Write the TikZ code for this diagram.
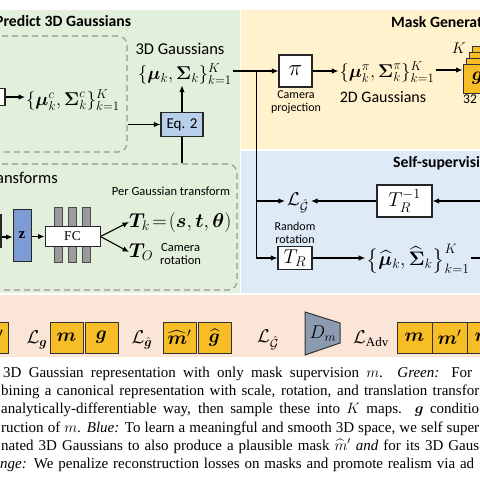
\RequirePackage{fix-cm}
\documentclass[tikz,border=0pt]{standalone}
\usepackage{amsmath}
\usepackage{bm}
\usepackage{fontspec}
\setmainfont{Liberation Serif}
\setsansfont{Carlito}
\usetikzlibrary{arrows.meta}
\definecolor{greenbg}{RGB}{226,239,218}
\definecolor{yelbg}{RGB}{255,242,204}
\definecolor{bluebg}{RGB}{222,235,247}
\definecolor{pinkbg}{RGB}{251,229,214}
\definecolor{mapyel}{RGB}{246,189,38}
\definecolor{eqblue}{RGB}{184,207,236}
\definecolor{zblue}{RGB}{125,155,212}
\definecolor{bargray}{RGB}{155,155,155}
\definecolor{dmcol}{RGB}{140,155,176}
\definecolor{dashgray}{RGB}{150,150,150}
\tikzset{
  arr/.style={-{Latex[length=6.5pt,width=5.5pt]}, line width=1.1pt},
  ln/.style={line width=1.1pt},
  wbox/.style={draw=black!85, line width=1.1pt, fill=white, inner sep=0pt},
  ybox/.style={draw=black!80, line width=1pt, fill=mapyel, minimum width=33pt, minimum height=31pt, inner sep=0pt, font=\fontsize{19}{20}\selectfont},
  dashbox/.style={draw=dashgray, line width=1.1pt, dash pattern=on 6pt off 4pt, rounded corners=9pt, inner sep=0pt},
  mth/.style={inner sep=1pt, font=\fontsize{18.5}{20}\selectfont},
  lbl/.style={font=\sffamily\fontsize{12.5}{13.5}\selectfont, align=center, inner sep=0pt},
  ttl/.style={font=\sffamily\bfseries\fontsize{15.7}{17}\selectfont, inner sep=0pt},
  captxt/.style={font=\fontsize{15}{18}\selectfont, inner sep=0pt, anchor=base west},
}
\begin{document}
\begin{tikzpicture}[x=1pt,y=-1pt]
\useasboundingbox (0,0) rectangle (480,480);
\clip (0,0) rectangle (480,480);
\fill[white] (0,0) rectangle (480,480);
% panels
\fill[greenbg] (-5,10) rectangle (240,293);
\fill[yelbg] (241,10) rectangle (485,149);
\fill[bluebg] (241,151) rectangle (485,293);
\fill[pinkbg] (-5,295) rectangle (485,357);

% ---------- green panel ----------
\node[ttl, anchor=west] (t1) at (-5,21) {Predict 3D Gaussians};
\node[dashbox, minimum width=147pt, minimum height=116pt] (dash1) at (53.5,94) {};
\node[wbox, minimum width=25pt, minimum height=17pt] (cbox) at (-7.5,97) {};
\node[mth] (gc) at (73,100) {$\{\bm\mu^c_k,\bm\Sigma^c_k\}_{k=1}^K$};
\draw[arr] (cbox.east) -- (cbox.east -| gc.west);

\node[wbox, fill=eqblue, minimum width=42pt, minimum height=24pt, font=\sffamily\fontsize{15}{16}\selectfont] (eq) at (182,124.5) {Eq. 2};
\draw[arr] (dash1.east |- eq.west) -- (eq.west);
\node[lbl, font=\sffamily\fontsize{16.5}{17}\selectfont] (l3d) at (180,49) {3D Gaussians};
\node[mth] (g3d) at (185,74) {$\{\bm\mu_k,\bm\Sigma_k\}_{k=1}^K$};
\draw[arr] (eq.north) -- (eq.north |- g3d.south);

\node[dashbox, minimum width=257pt, minimum height=126pt] (dash2) at (108.5,227) {};
\draw[ln] (eq.south) -- (eq.south |- dash2.north);
\node[lbl, font=\sffamily\fontsize{16.5}{17}\selectfont, anchor=east] (ttr) at (58,178) {Transforms};

\node[wbox, minimum width=21pt, minimum height=32pt] (ibox) at (-9.5,231) {};
\node[draw=black!85, line width=1pt, fill=zblue, minimum width=18pt, minimum height=52pt, inner sep=0pt, font=\bfseries\fontsize{15}{16}\selectfont] (z) at (22,235) {z};
\draw[arr] (ibox.east |- 0,237) -- (z.west |- 0,237);
\foreach \xx/\nm in {58.5/b1,72.5/b2,86.5/b3}
  \node[draw=black!70, line width=0.9pt, fill=bargray, minimum width=7.5pt, minimum height=55pt, inner sep=0pt] (\nm) at (\xx,234.5) {};
\node[wbox, line width=1pt, minimum width=55pt, minimum height=20pt, font=\fontsize{13.5}{14}\selectfont] (fc) at (72.5,236.5) {FC};
\draw[arr] (z.east |- fc.west) -- (fc.west);
\node[lbl] (pgt) at (171,191) {Per Gaussian transform};
\node[mth, anchor=west, inner sep=0pt, font=\fontsize{20}{22}\selectfont] (tk) at (129,222) {$\bm T_k\!=\!(\bm s,\bm t,\bm\theta)$};
\node[mth, anchor=west, inner sep=0pt, font=\fontsize{20}{22}\selectfont] (to) at (129,252) {$\bm T_O$};
\node[lbl, anchor=west] (crot) at (160,254) {Camera\\rotation};
\draw[arr] (fc.east) -- (tk.west);
\draw[arr] (fc.east) -- (to.west);

% ---------- yellow panel ----------
\node[ttl, anchor=west] (t2) at (391,22) {Mask Generation};
\node[wbox, minimum width=33pt, minimum height=32pt, font=\fontsize{23}{23}\selectfont] (pi) at (295.5,71) {$\pi$};
\node[lbl, font=\sffamily\fontsize{12}{12.5}\selectfont] (cproj) at (296,102) {Camera\\projection};
\draw[arr] (g3d.east |- pi.west) -- (pi.west);
\path (pi.west) ++(-22,0) coordinate (j);
\node[mth] (g2d) at (387,72) {$\{\bm\mu^\pi_k,\bm\Sigma^\pi_k\}_{k=1}^K$};
\node[lbl, font=\sffamily\fontsize{16}{17}\selectfont] (l2d) at (383,97) {2D Gaussians};
\draw[arr] (pi.east) -- (pi.east -| g2d.west);
\foreach \i in {3,2,1} {
  \fill[mapyel, draw=black!80, line width=0.8pt] (463+3*\i,64-6*\i) rectangle (492+3*\i,93-6*\i);
}
\node[draw=black!80, line width=1pt, fill=mapyel, minimum width=29pt, minimum height=29pt, inner sep=0pt, font=\fontsize{19}{19}\selectfont] (gmap) at (477.5,78.5) {$\bm g$};
\draw[arr] (g2d.east |- 0,70) -- (gmap.west |- 0,70);
\node[mth, font=\fontsize{15.5}{16}\selectfont] (kk) at (459,48) {$K$};
\node[lbl, font=\sffamily\fontsize{13.5}{14}\selectfont, anchor=west] (res) at (463,99) {32 ×};

% ---------- blue panel ----------
\node[ttl, anchor=west] (t3) at (393,163) {Self-supervision};
\node[wbox, minimum width=55pt, minimum height=32pt, font=\fontsize{20}{21}\selectfont] (trinv) at (404.5,201) {$T_R^{-1}$};
\coordinate (rin) at (484,201);
\draw[arr] (rin) -- (trinv.east);
\node[mth, inner sep=2pt] (lgh) at (298,203) {$\mathcal{L}_{\hat{\mathcal G}}$};
\draw[arr] (trinv.west) -- (trinv.west -| lgh.east);
\draw[arr] (j |- trinv.west) -- (trinv.west -| lgh.west);
\node[lbl, font=\sffamily\fontsize{12}{12.5}\selectfont] (rrot) at (295,233) {Random\\rotation};
\node[wbox, minimum width=34pt, minimum height=23pt, font=\fontsize{20}{21}\selectfont] (tr) at (295,258) {$T_R$};
\draw[arr] (j) |- (tr.west);
\node[mth, font=\fontsize{19.5}{21}\selectfont] (ghat) at (418,259) {$\bigl\{\widehat{\bm\mu}_k,\widehat{\bm\Sigma}_k\bigr\}_{k=1}^K$};
\draw[arr] (tr.east) -- (tr.east -| ghat.west);
\coordinate (rout) at (484,258);
\draw[ln] (ghat.east |- tr.east) -- (rout);

% ---------- loss row ----------
\node[ybox] (bm0) at (-8.5,337.5) {$\bm m'$};
\node[mth] (lg) at (37,340) {$\mathcal{L}_{\bm g}$};
\node[ybox] (bm1) at (66.5,337.5) {$\bm m$};
\node[ybox] (bg1) at (101.5,337.5) {$\bm g$};
\node[mth] (lgh2) at (142,340) {$\mathcal{L}_{\hat{\bm g}}$};
\node[ybox] (bm2) at (179.5,337.5) {$\widehat{\bm m}'$};
\node[ybox] (bg2) at (214.5,337.5) {$\widehat{\bm g}$};
\node[mth] (lgG) at (268,340) {$\mathcal{L}_{\hat{\mathcal G}}$};
\draw[fill=dmcol, draw=black!80, line width=1pt] (305,312) -- (340,323) -- (340,343) -- (305,355) -- cycle;
\node[mth] (dm) at (323,334) {$D_m$};
\node[mth] (ladv) at (371,339) {$\mathcal{L}_{\mathrm{Adv}}$};
\node[ybox, minimum width=35pt] (bm3) at (414.5,337.5) {$\bm m$};
\node[ybox, minimum width=35pt] (bm4) at (449.5,337.5) {$\bm m'$};
\node[ybox, minimum width=35pt] (bm5) at (484.5,337.5) {$\bm m$};

% ---------- caption ----------
\node[captxt] (c1) at (3,377) {\makebox[469pt][s]{3D Gaussian representation with only mask supervision $m$.\ \ \emph{Green:} For}};
\node[captxt] (c2) at (1,395) {\makebox[478pt][s]{bining a canonical representation with scale, rotation, and translation transfor}};
\node[captxt] (c3) at (1,413) {\makebox[478pt][s]{analytically-differentiable way, then sample these into $K$ maps.\ \ $\bm g$ conditio}};
\node[captxt] (c4) at (1,432) {\makebox[478pt][s]{ruction of $m$. \emph{Blue:} To learn a meaningful and smooth 3D space, we self super}};
\node[captxt] (c5) at (1,450) {\makebox[478pt][s]{nated 3D Gaussians to also produce a plausible mask $\widehat{m}'$ \emph{and} for its 3D Gaus}};
\node[captxt] (c6) at (0,468) {\makebox[474pt][s]{\emph{nge:} We penalize reconstruction losses on masks and promote realism via ad}};
\end{tikzpicture}
\end{document}
